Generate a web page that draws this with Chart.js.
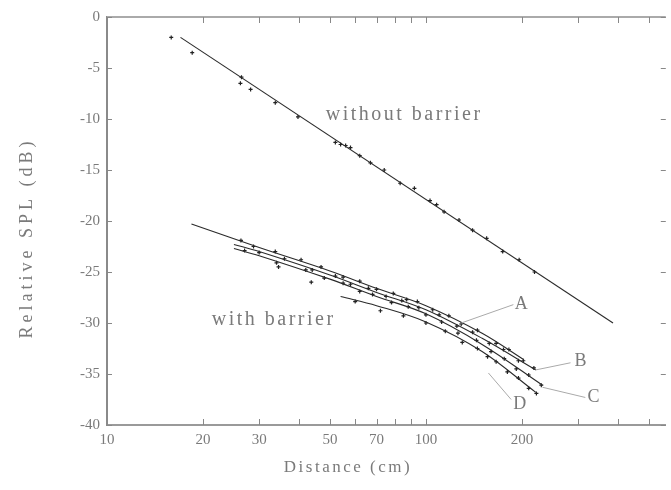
<!DOCTYPE html>
<html>
<head>
<meta charset="utf-8">
<script src="https://cdn.jsdelivr.net/npm/chart.js@4.4.1/dist/chart.umd.min.js"></script>
<style>
html, body { margin: 0; padding: 0; background: #fff; }
</style>
</head>
<body>
<canvas id="graphCanvasSPL" width="671" height="490"></canvas>
<script>
// axis ticks
var xTicks = [10, 20, 30, 40, 50, 60, 70, 80, 90, 100, 200, 300, 400, 500];
var xLabels = [10, 20, 30, 50, 70, 100, 200];
var yTicks = [0, -5, -10, -15, -20, -25, -30, -35, -40];

// without barrier: fit + measured points
var freeFitX = [17, 386];
var freeFitY = [-2, -30];
var freePtsX = [15.9, 18.5, 26.2, 26.4, 28.2, 33.7, 39.7, 52, 54, 56, 58, 62, 67, 74, 83, 92, 103, 108, 114, 127, 140, 155, 174, 196, 219];
var freePtsY = [-2.0, -3.5, -6.5, -5.9, -7.1, -8.4, -9.8, -12.3, -12.5, -12.6, -12.8, -13.6, -14.3, -15.0, -16.3, -16.8, -18.0, -18.4, -19.1, -19.9, -20.9, -21.7, -23.0, -23.8, -25.0];

// with barrier: fitted curves A-D
var fitAX = [18.4, 30, 50, 70, 100, 150, 203];
var fitAY = [-20.3, -22.6, -24.9, -26.6, -28.3, -31.0, -33.6];
var fitBX = [25, 30, 50, 70, 100, 150, 221];
var fitBY = [-22.3, -23.0, -25.3, -27.0, -28.7, -31.5, -34.6];
var fitCX = [25, 30, 50, 70, 100, 150, 232];
var fitCY = [-22.7, -23.4, -25.7, -27.4, -29.1, -32.1, -36.1];
var fitDX = [54, 70, 100, 150, 221];
var fitDY = [-27.4, -28.3, -29.9, -32.8, -36.8];

// with barrier: measured points
var ptsAX = [26.3, 28.8, 33.7, 40.6, 46.9, 55, 62, 70, 79, 87, 94, 105, 118, 129, 145, 166, 182, 202];
var ptsAY = [-21.9, -22.5, -23.0, -23.8, -24.5, -25.5, -25.9, -26.7, -27.1, -27.7, -27.9, -28.7, -29.3, -30.1, -30.7, -32.0, -32.6, -33.7];
var ptsBX = [30, 36, 44, 52, 58, 66, 75, 84, 95, 110, 125, 140, 158, 175, 195, 218];
var ptsBY = [-23.1, -23.7, -24.8, -25.4, -26.2, -26.6, -27.4, -27.8, -28.5, -29.2, -30.3, -30.9, -32.0, -32.6, -33.7, -34.4];
var ptsCX = [27, 34, 42, 48, 55, 62, 68, 78, 88, 100, 112, 126, 144, 160, 176, 192, 210, 230];
var ptsCY = [-22.9, -24.1, -24.8, -25.6, -26.1, -26.9, -27.2, -28.0, -28.4, -29.2, -29.9, -31.0, -31.7, -32.8, -33.5, -34.5, -35.1, -36.1];
var ptsDX = [34.5, 43.7, 60, 72, 85, 100, 115, 130, 145, 156, 166, 180, 195, 210, 222];
var ptsDY = [-24.5, -26.0, -27.9, -28.8, -29.3, -30.0, -30.8, -31.9, -32.5, -33.3, -33.8, -34.8, -35.4, -36.4, -36.9];

// leader lines to the curve labels
var leadAX = [129, 188], leadAY = [-30.0, -28.2];
var leadBX = [221, 284], leadBY = [-34.6, -33.9];
var leadCX = [232, 316], leadCY = [-36.3, -37.3];
var leadDX = [157, 185], leadDY = [-34.9, -37.5];

// text annotations (data coordinates)
var notes = [
    { text: 'without barrier', x: 48.5, y: -9.6, align: 'left', size: 20 },
    { text: 'with barrier', x: 21.3, y: -29.7, align: 'left', size: 20 },
    { text: 'A', x: 199, y: -28.2, align: 'center', size: 18 },
    { text: 'B', x: 305, y: -33.8, align: 'center', size: 18 },
    { text: 'C', x: 335, y: -37.3, align: 'center', size: 18 },
    { text: 'D', x: 197, y: -38.0, align: 'center', size: 18 }
];

var serif = '"Liberation Serif", "DejaVu Serif", serif';
var textGrey = '#7a7a7a';

function zip(xs, ys) {
    var out = [];
    for (var i in xs) {
        out.push({ x: xs[i], y: ys[i] });
    }
    return out;
}

function fitLine(xs, ys, smooth) {
    return {
        data: zip(xs, ys),
        showLine: true,
        borderColor: '#2a2a2a',
        borderWidth: 1.1,
        pointRadius: 0,
        tension: smooth ? 0.35 : 0
    };
}

function points(xs, ys) {
    return {
        data: zip(xs, ys),
        showLine: false,
        pointStyle: 'cross',
        pointRadius: 2,
        borderWidth: 1.2,
        borderColor: '#222',
        backgroundColor: '#222'
    };
}

function leader(xs, ys) {
    return {
        data: zip(xs, ys),
        showLine: true,
        borderColor: '#aaa',
        borderWidth: 1,
        pointRadius: 0
    };
}

var framePlugin = {
    id: 'frame',
    afterDraw: function(chart) {
        var c = chart.ctx;
        var a = chart.chartArea;
        var xs = chart.scales.x, ys = chart.scales.y;
        c.save();
        // top border
        c.strokeStyle = '#aaa';
        c.lineWidth = 2;
        c.beginPath();
        c.moveTo(a.left, a.top);
        c.lineTo(a.right, a.top);
        c.stroke();
        // inner ticks
        c.strokeStyle = '#888';
        c.lineWidth = 1;
        c.beginPath();
        xTicks.forEach(function(v) {
            if (v === 10) return;
            var px = Math.round(xs.getPixelForValue(v)) + 0.5;
            c.moveTo(px, a.bottom); c.lineTo(px, a.bottom - 6);
            c.moveTo(px, a.top); c.lineTo(px, a.top + 6);
        });
        yTicks.forEach(function(v) {
            var py = Math.round(ys.getPixelForValue(v)) + 0.5;
            c.moveTo(a.left, py); c.lineTo(a.left + 5, py);
            c.moveTo(a.right, py); c.lineTo(a.right - 5, py);
        });
        c.stroke();

        c.fillStyle = textGrey;
        c.textBaseline = 'middle';
        // axis titles
        c.font = '18px ' + serif;
        c.letterSpacing = '4px';
        c.save();
        c.translate(27, 238);
        c.rotate(-Math.PI / 2);
        c.textAlign = 'center';
        c.fillText('Relative SPL (dB)', 0, 0);
        c.restore();
        c.font = '17px ' + serif;
        c.letterSpacing = '2.5px';
        c.textAlign = 'center';
        c.fillText('Distance (cm)', 348, 468);

        // annotations
        notes.forEach(function(n) {
            c.font = n.size + 'px ' + serif;
            c.letterSpacing = n.text.length > 1 ? '2.5px' : '0px';
            c.textAlign = n.align;
            c.fillText(n.text, xs.getPixelForValue(n.x), ys.getPixelForValue(n.y));
        });
        c.restore();
    }
};

var graphTarget = document.getElementById('graphCanvasSPL');

var splChart = new Chart(graphTarget, {
    type: 'scatter',
    data: {
        datasets: [
            leader(leadAX, leadAY),
            leader(leadBX, leadBY),
            leader(leadCX, leadCY),
            leader(leadDX, leadDY),
            fitLine(freeFitX, freeFitY, false),
            points(freePtsX, freePtsY),
            fitLine(fitAX, fitAY, true),
            fitLine(fitBX, fitBY, true),
            fitLine(fitCX, fitCY, true),
            fitLine(fitDX, fitDY, true),
            points(ptsAX, ptsAY),
            points(ptsBX, ptsBY),
            points(ptsCX, ptsCY),
            points(ptsDX, ptsDY)
        ]
    },
    options: {
        responsive: false,
        animation: false,
        devicePixelRatio: 1,
        layout: { padding: { top: 17, right: 0, left: 0, bottom: 0 } },
        plugins: {
            legend: { display: false },
            tooltip: { enabled: false }
        },
        scales: {
            x: {
                type: 'logarithmic',
                min: 10,
                max: 565,
                afterBuildTicks: function(s) {
                    s.ticks = xTicks.map(function(v) { return { value: v }; });
                },
                afterFit: function(s) { s.height = 65; },
                grid: { display: false, drawTicks: false },
                border: { color: '#9a9a9a', width: 2 },
                ticks: {
                    autoSkip: false,
                    maxRotation: 0,
                    padding: 6,
                    color: textGrey,
                    font: { family: serif, size: 15 },
                    callback: function(v) {
                        return xLabels.indexOf(v) >= 0 ? String(v) : '';
                    }
                }
            },
            y: {
                min: -40,
                max: 0,
                afterBuildTicks: function(s) {
                    s.ticks = yTicks.map(function(v) { return { value: v }; });
                },
                afterFit: function(s) { s.width = 107; },
                grid: { display: false, drawTicks: false },
                border: { color: '#8a8a8a', width: 2 },
                ticks: {
                    padding: 7,
                    color: textGrey,
                    font: { family: serif, size: 15 },
                    callback: function(v) { return String(v); }
                }
            }
        }
    },
    plugins: [framePlugin]
});
</script>
</body>
</html>
